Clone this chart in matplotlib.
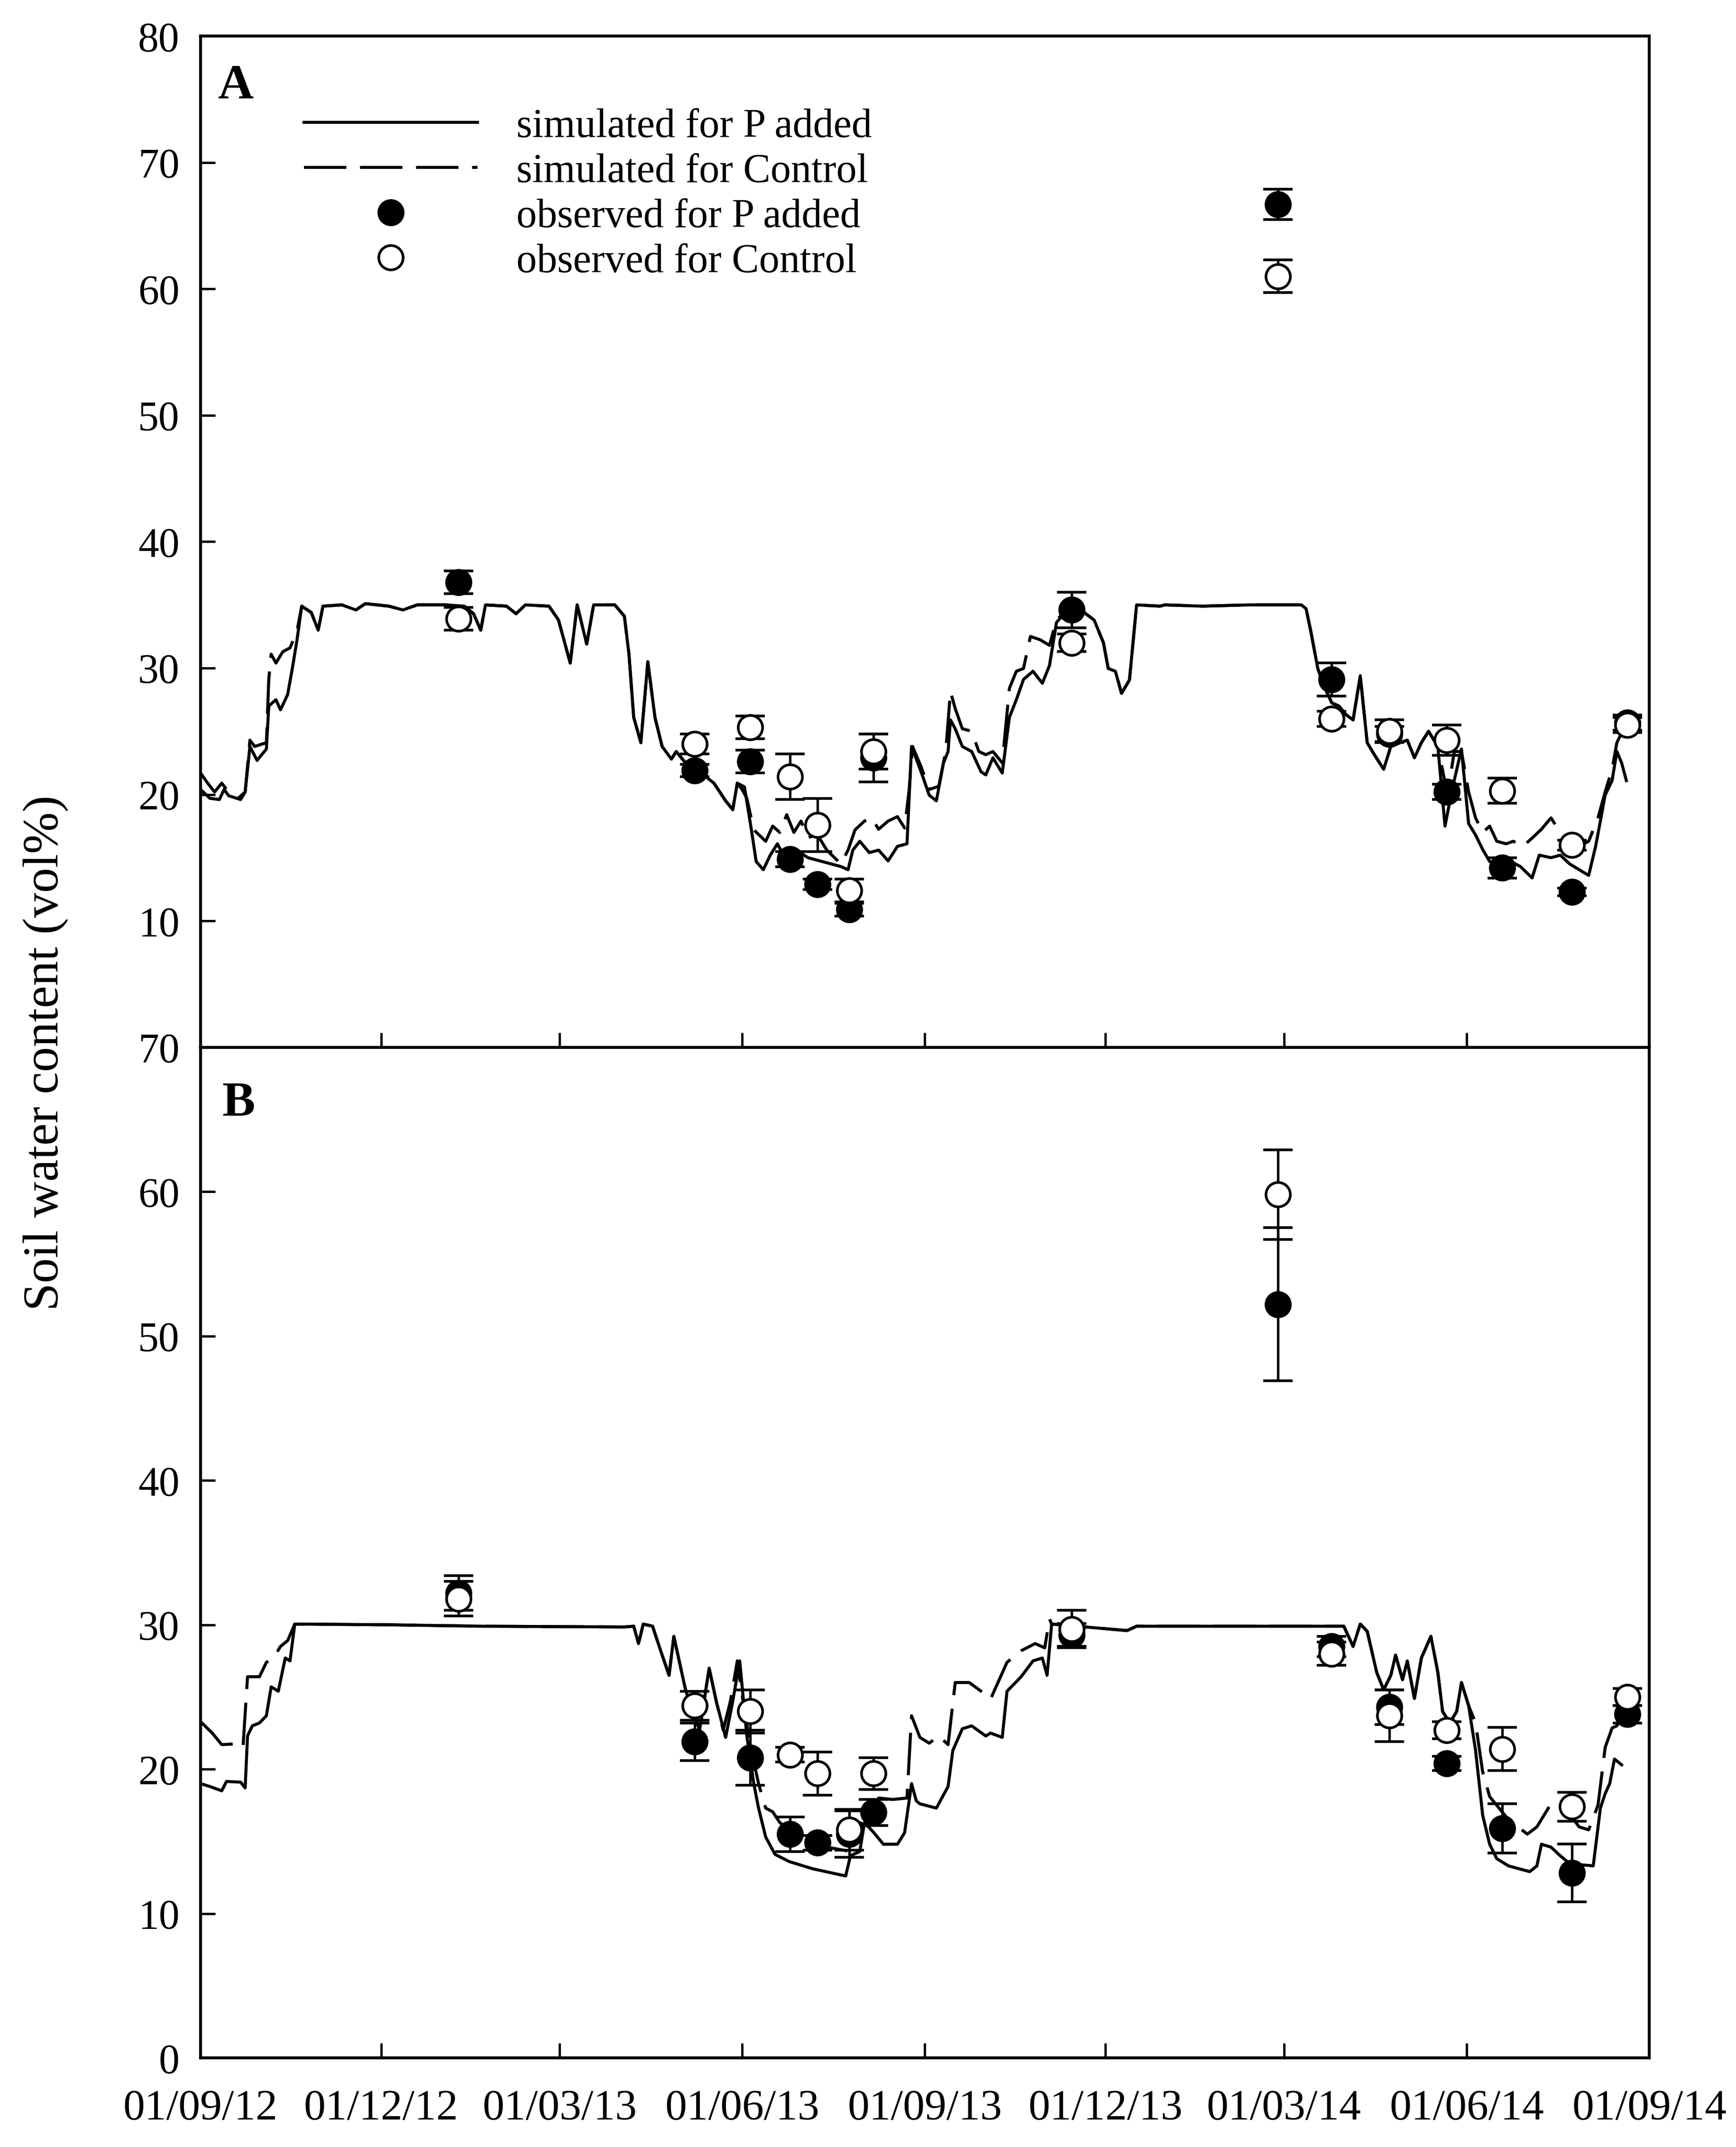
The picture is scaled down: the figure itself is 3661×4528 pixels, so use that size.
import numpy as np
import pandas as pd
import matplotlib
matplotlib.use("Agg")
import matplotlib.pyplot as plt
import matplotlib.dates as mdates
from matplotlib.lines import Line2D

plt.rcParams['font.family'] = ['Liberation Serif', 'DejaVu Serif']

# Data: days since 01/09/2012, soil water content (vol%)
START = pd.Timestamp('2012-09-01')

# ---- panel A, simulated (day, value) ----
a_p_start = [(0, 20.4), (4.7, 19.7), (9.5, 19.6), (11.9, 20.4), (14.2, 19.9), (20.2, 19.6), (22.5, 20.2),
             (24.9, 23.8), (28.5, 22.7), (33.2, 23.6), (34.4, 27.0), (38.0, 27.5), (40.3, 26.7), (43.9, 27.9),
             (46.3, 30.0), (48.6, 32.2), (51.0, 34.9)]
a_c_start = [(0, 21.7), (3.6, 20.9), (7.1, 20.2), (10.7, 20.9), (13.1, 20.4), (19.0, 19.7), (22.5, 20.2),
             (24.9, 24.3), (27.3, 23.8), (33.2, 24.1), (34.4, 29.1), (35.6, 31.1), (38.0, 30.4), (41.5, 31.3),
             (45.1, 31.6), (48.6, 32.9), (51.0, 34.9)]
a_common_1 = [(55.8, 34.4), (59.3, 33.0), (61.7, 34.9), (71.2, 35.0), (78.3, 34.6), (83.1, 35.1), (94.9, 34.9),
              (102.0, 34.6), (109.2, 35.0), (123.4, 35.0), (132.9, 34.9), (137.6, 34.3), (141.2, 33.0),
              (143.6, 35.0), (154.2, 34.9), (159.0, 34.3), (163.7, 35.0), (175.6, 34.9), (180.4, 33.8),
              (186.3, 30.4), (189.8, 35.0), (194.6, 31.9), (198.1, 35.0), (208.8, 35.0), (213.6, 34.1),
              (215.9, 31.1), (218.3, 26.1), (221.9, 24.1), (225.4, 30.5), (229.0, 26.1), (232.6, 23.8),
              (237.3, 22.8), (239.7, 23.4), (244.4, 22.5), (251.5, 21.8), (258.7, 20.9), (264.6, 19.5),
              (268.2, 18.8), (270.5, 20.9)]
a_p_summer13 = [(274.1, 20.6), (277.6, 17.2), (280.0, 14.7), (283.6, 14.05), (287.1, 15.2), (290.7, 16.1),
                (295.4, 14.7), (300.2, 15.6), (306.1, 15.0), (313.2, 14.7), (322.7, 14.3), (326.3, 14.05),
                (328.7, 15.6), (332.2, 16.3), (337.0, 15.4), (341.7, 15.6), (346.5, 14.75), (351.2, 15.9),
                (356.0, 16.1), (358.3, 23.8), (363.1, 21.8), (367.2, 19.95), (370.8, 19.5), (374.4, 22.5),
                (376.7, 23.4), (377.9, 25.9), (380.3, 25.2), (383.9, 23.8), (388.6, 23.4), (393.3, 21.8),
                (395.7, 21.55), (399.3, 22.9), (404.0, 21.7), (407.6, 26.1), (411.1, 27.5), (414.7, 29.1),
                (419.5, 29.75), (424.2, 28.8), (427.8, 30.2), (431.3, 33.6), (438.4, 34.9)]
a_c_summer13 = [(272.9, 20.4), (275.3, 19.7), (278.8, 17.2), (284.8, 16.3), (288.3, 17.5), (291.9, 17.0),
                (295.4, 18.4), (299.0, 17.0), (302.6, 17.9), (306.1, 16.6), (310.9, 16.8), (315.6, 15.6),
                (322.7, 14.5), (326.3, 15.6), (329.8, 17.2), (334.6, 17.9), (338.2, 18.15), (341.7, 17.25),
                (346.5, 17.9), (351.2, 18.25), (354.8, 17.35), (357.1, 20.4), (358.8, 23.8), (363.1, 22.2),
                (367.2, 20.4), (372.0, 20.65), (375.5, 23.4), (377.9, 28.15), (380.3, 26.8), (383.9, 25.2),
                (388.6, 25.0), (392.2, 23.4), (395.7, 23.15), (399.3, 23.4), (404.0, 22.5), (407.6, 28.4),
                (411.1, 29.75), (414.7, 29.97), (418.2, 32.5), (423.0, 32.25), (427.8, 31.8), (431.3, 33.8),
                (438.4, 34.9)]
a_common_2 = [(444.4, 34.5), (450.3, 33.8), (455.0, 32.0), (457.4, 29.97), (461.0, 29.75), (464.1, 28.0),
              (468.1, 29.06), (471.7, 35.0), (483.5, 34.9), (485.9, 35.0), (504.9, 34.9), (528.6, 35.0),
              (554.7, 35.0), (557.1, 34.7), (559.5, 32.9), (563.0, 29.97), (566.6, 28.4), (570.1, 27.24),
              (573.7, 27.0), (577.3, 26.3), (580.8, 25.9), (584.4, 29.4), (587.9, 24.1), (591.5, 23.15),
              (596.2, 22.0), (599.8, 23.8), (604.5, 24.1), (608.1, 24.3), (611.7, 22.9), (615.2, 24.1),
              (618.8, 25.0), (623.5, 23.8)]
a_p_summer14 = [(627.1, 17.5), (630.7, 20.4), (635.4, 23.6), (639.0, 17.7), (642.5, 16.8), (646.1, 15.65),
                (649.6, 14.7), (655.6, 14.5), (660.3, 14.7), (665.1, 14.3), (671.0, 13.4), (674.6, 15.2),
                (680.5, 15.0), (685.2, 15.2), (690.0, 14.5), (694.7, 14.05), (699.5, 13.6), (703.0, 15.9),
                (705.4, 17.9), (707.8, 19.95), (711.3, 21.1), (713.7, 23.4), (716.1, 22.5), (718.5, 21.1)]
a_c_summer14 = [(628.3, 20.0), (631.8, 23.4), (635.4, 23.4), (639.0, 20.2), (642.5, 18.15), (646.1, 17.0),
                (649.6, 17.5), (653.2, 16.3), (657.9, 16.1), (661.5, 16.3), (666.3, 15.9), (671.0, 16.55),
                (675.7, 17.25), (680.5, 18.15), (685.2, 17.0), (690.0, 16.1), (694.7, 15.9), (699.5, 16.3),
                (704.2, 18.15), (707.8, 20.2), (711.3, 22.0), (713.7, 24.1), (718.5, 25.65)]

# ---- panel B, simulated (day, value) ----
b_p_start = [(0, 19.0), (4.7, 18.8), (10.7, 18.5), (13.1, 19.15), (20.2, 19.1), (22.5, 18.7), (23.7, 22.3),
             (26.1, 23.0), (29.7, 23.2), (33.2, 23.7), (35.6, 25.7), (39.2, 25.4), (42.7, 27.7), (45.1, 27.5)]
b_c_start = [(0, 23.3), (5.9, 22.5), (10.7, 21.7), (17.8, 21.75), (21.4, 21.5), (23.7, 26.4), (29.7, 26.4),
             (33.2, 27.4), (36.8, 27.7), (40.3, 28.5), (43.9, 28.9)]
b_common_1 = [(47.5, 30.05), (94.9, 30.0), (142.4, 29.9), (213.6, 29.85), (218.3, 29.9), (220.7, 28.7),
              (223.1, 30.05), (227.8, 29.9), (231.4, 28.4), (236.1, 26.5), (238.5, 29.2), (244.4, 25.5),
              (248.0, 24.0), (251.5, 22.7), (256.3, 27.0), (259.9, 24.7)]
b_p_summer13 = [(264.6, 22.2), (268.2, 24.7), (271.7, 27.5), (275.3, 22.3), (278.8, 19.0), (281.2, 17.3),
                (284.8, 15.3), (289.5, 14.1), (296.6, 13.6), (308.5, 13.1), (325.1, 12.6), (327.5, 14.0),
                (332.2, 14.3), (334.6, 16.3), (339.3, 15.6), (344.1, 14.8), (351.2, 14.8), (354.8, 15.6),
                (358.3, 19.0), (360.7, 17.8), (362.5, 17.6), (370.8, 17.3), (376.7, 18.8), (379.1, 21.3),
                (383.9, 22.8), (388.6, 23.0), (395.7, 22.3), (398.1, 22.5), (404.0, 22.2), (406.4, 25.4),
                (410.0, 25.9), (413.5, 26.4), (419.5, 27.5), (424.2, 27.7), (426.6, 26.5)]
b_c_summer13 = [(263.4, 22.7), (267.0, 24.7), (270.5, 27.5), (274.1, 24.0), (277.6, 21.3), (281.2, 19.0),
                (284.8, 17.3), (288.3, 17.05), (291.9, 16.3), (301.4, 15.3), (315.6, 14.6), (327.5, 14.3),
                (332.2, 16.3), (337.0, 16.0), (341.7, 18.0), (348.8, 17.9), (356.0, 18.0), (358.3, 23.7),
                (362.5, 22.2), (367.2, 21.8), (372.0, 22.3), (376.7, 21.7), (380.3, 26.0), (387.4, 26.0),
                (393.3, 25.4), (398.1, 24.85), (406.4, 27.4), (413.5, 28.2), (420.6, 28.7), (425.4, 28.4),
                (427.8, 30.4)]
b_common_2 = [(428.9, 30.05), (466.9, 29.6), (471.7, 29.9), (576.1, 29.9), (580.8, 28.5), (584.4, 30.05),
              (587.9, 29.55), (592.7, 26.7), (596.2, 25.5), (599.8, 26.5), (602.2, 27.9), (605.7, 26.2),
              (608.1, 27.5), (611.7, 24.9), (615.2, 27.7), (620.0, 29.2), (623.5, 26.7), (625.9, 24.0),
              (629.5, 23.2), (633.0, 24.0), (635.4, 26.0), (639.0, 24.4)]
b_p_summer14 = [(642.5, 21.3), (646.1, 16.8), (649.6, 14.8), (653.2, 13.8), (659.1, 13.3), (669.8, 12.9),
                (673.4, 13.3), (675.7, 14.8), (680.5, 14.6), (685.2, 14.0), (690.0, 13.45), (701.8, 13.3),
                (705.4, 17.3), (707.8, 18.3), (710.1, 19.0), (712.5, 20.7), (716.1, 20.3)]
b_c_summer14 = [(642.5, 23.2), (646.1, 19.8), (649.6, 18.1), (659.1, 16.5), (668.6, 15.5), (673.4, 16.0),
                (680.5, 17.6), (687.6, 17.3), (694.7, 16.0), (699.5, 15.8), (704.2, 17.5), (707.8, 21.5),
                (711.3, 22.85), (713.7, 23.0), (717.3, 24.0)]

# ---- observations ----
obs_days = [130, 249, 277, 297, 311, 327, 339, 439, 543, 570, 599, 628, 656, 691, 719]

a_obs_p = [36.8, 21.9, 22.6, 14.9, 12.9, 10.9, 22.9, 34.6, 66.7, 29.1, 24.8, 20.2, 14.2, 12.3, 25.7]
a_obs_p_err = [0.9, 0.5, 0.9, 0.6, 0.4, 0.5, 1.9, 1.4, 1.2, 1.3, 0.6, 0.6, 0.8, 0.3, 0.6]
a_obs_c = [33.9, 24.0, 25.3, 21.4, 17.6, 12.4, 23.4, 32.0, 61.0, 26.0, 25.0, 24.3, 20.3, 16.0, 25.5]
a_obs_c_err = [0.9, 0.8, 0.9, 1.8, 2.1, 0.9, 1.4, 0.7, 1.3, 0.6, 0.9, 1.2, 1.0, 0.4, 0.6]

b_obs_p = [32.2, 21.9, 20.8, 15.5, 14.9, 15.5, 17.0, 29.3, 52.2, 28.5, 24.3, 20.4, 15.9, 12.8, 23.8]
b_obs_p_err = [1.2, 1.3, 1.9, 1.2, 0.5, 1.6, 0.9, 0.8, 5.3, 0.7, 1.2, 0.5, 1.7, 2.0, 0.6]
b_obs_c = [31.8, 24.4, 24.0, 21.0, 19.7, 15.8, 19.7, 29.7, 59.8, 28.0, 23.7, 22.7, 21.4, 17.4, 25.0]
b_obs_c_err = [1.2, 1.0, 1.5, 0.5, 1.5, 1.4, 1.1, 1.3, 3.1, 0.8, 1.8, 0.6, 1.5, 1.0, 0.6]

tick_dates = ['2012-09-01', '2012-12-01', '2013-03-01', '2013-06-01', '2013-09-01',
              '2013-12-01', '2014-03-01', '2014-06-01', '2014-09-01']


def to_xy(pairs):
    d = np.array([p[0] for p in pairs])
    v = np.array([p[1] for p in pairs])
    return START + pd.to_timedelta(d, unit='D'), v


series = {
    'A': (a_p_start + a_common_1 + a_p_summer13 + a_common_2 + a_p_summer14,
          a_c_start + a_common_1 + a_c_summer13 + a_common_2 + a_c_summer14,
          a_obs_p, a_obs_p_err, a_obs_c, a_obs_c_err),
    'B': (b_p_start + b_common_1 + b_p_summer13 + b_common_2 + b_p_summer14,
          b_c_start + b_common_1 + b_c_summer13 + b_common_2 + b_c_summer14,
          b_obs_p, b_obs_p_err, b_obs_c, b_obs_c_err),
}

LW = 4.6
DASH = (14, 4.5)
MS = 37
MEW = 4
ERR = dict(ecolor='black', elinewidth=3.8, capsize=22, capthick=4.5)

fig = plt.figure(figsize=(36.61, 45.28), dpi=100)
axA = fig.add_axes([0.1155, 0.5122, 0.8345, 0.4710])
axB = fig.add_axes([0.1155, 0.0415, 0.8345, 0.4707])

obs_x = START + pd.to_timedelta(np.array(obs_days), unit='D')
xt = pd.to_datetime(tick_dates)

for key, ax in (('A', axA), ('B', axB)):
    sim_p, sim_c, op, ope, oc, oce = series[key]
    x, y = to_xy(sim_p)
    ax.plot(x, y, '-', color='black', lw=LW, zorder=2)
    x, y = to_xy(sim_c)
    ax.plot(x, y, '--', color='black', lw=LW, dashes=DASH, zorder=2)
    ax.errorbar(obs_x, op, yerr=ope, fmt='o', ms=MS, mfc='black', mec='black', mew=MEW, zorder=3, **ERR)
    ax.errorbar(obs_x, oc, yerr=oce, fmt='o', ms=MS, mfc='white', mec='black', mew=MEW, zorder=4, **ERR)

    ax.set_xlim(xt[0], xt[-1])
    ax.set_xticks(xt)
    ax.xaxis.set_major_formatter(mdates.DateFormatter('%d/%m/%y'))
    for s in ax.spines.values():
        s.set_linewidth(4.5)
    ax.tick_params(axis='both', direction='in', length=22, width=3.5)
    ax.tick_params(axis='y', pad=32, right=False, labelsize=63)
    ax.tick_params(axis='x', pad=48, top=False, labelsize=66)

axA.set_ylim(0, 80)
axA.set_yticks(np.arange(10, 81, 10))
axA.tick_params(axis='x', labelbottom=False)
axB.set_ylim(0, 70)
axB.set_yticks(np.arange(0, 71, 10))

axA.text(0.012, 0.972, 'A', transform=axA.transAxes, fontsize=75, fontweight='bold', va='top', ha='left')
axB.text(0.015, 0.966, 'B', transform=axB.transAxes, fontsize=75, fontweight='bold', va='top', ha='left')

handles = [
    Line2D([], [], color='black', lw=LW, ls='-'),
    Line2D([], [], color='black', lw=LW, ls='--', dashes=DASH),
    Line2D([], [], color='black', ls='none', marker='o', ms=MS, mfc='black', mec='black', mew=MEW),
    Line2D([], [], color='black', ls='none', marker='o', ms=MS, mfc='white', mec='black', mew=MEW),
]
labels = ['simulated for P added', 'simulated for Control', 'observed for P added', 'observed for Control']
axA.legend(handles, labels, loc='upper left', bbox_to_anchor=(0.0714, 0.9287), frameon=False,
           fontsize=62, handlelength=4.25, handletextpad=0.95, borderpad=0, borderaxespad=0,
           labelspacing=0.18)

fig.text(0.0265, 0.5097, 'Soil water content (vol%)', rotation=90, ha='center', va='center', fontsize=76)

fig.savefig('out.png', dpi=100)
